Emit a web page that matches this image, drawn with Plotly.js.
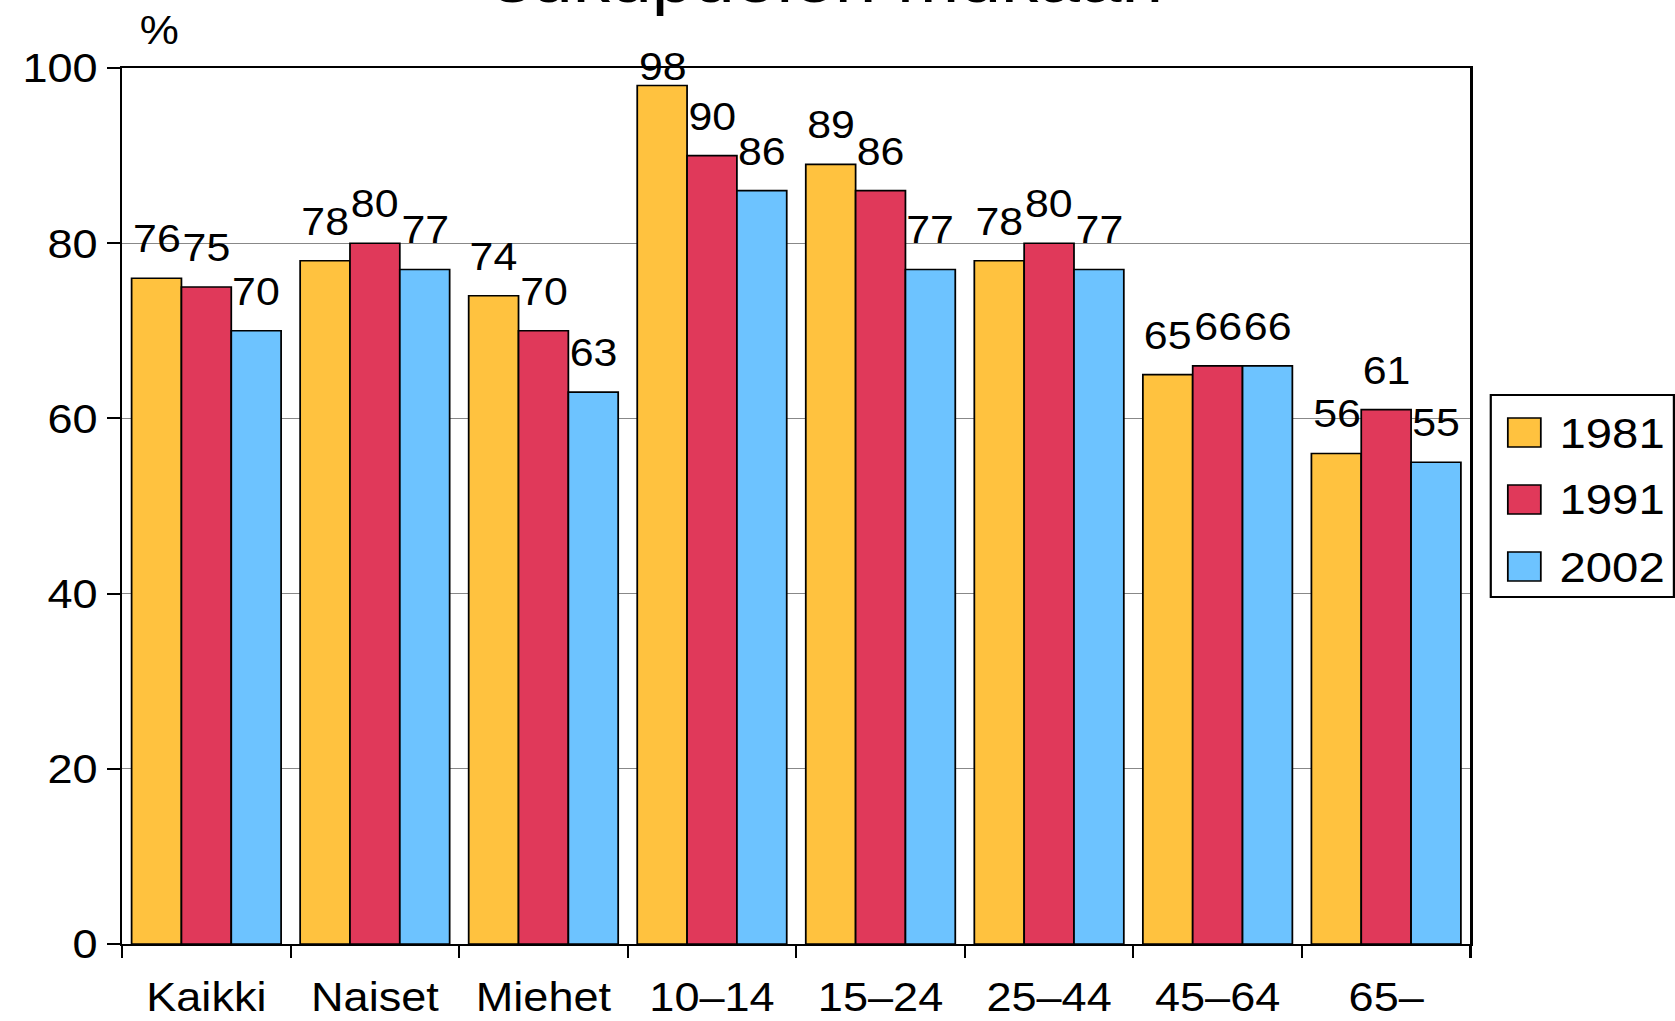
<!DOCTYPE html>
<html>
<head>
<meta charset="utf-8">
<script src="https://cdn.plot.ly/plotly-3.0.1.min.js"></script>
<style>
html,body{margin:0;padding:0;background:#fff;overflow:hidden;}
#chart{width:1523px;height:1021px;transform:scaleX(1.0998);transform-origin:0 0;}
</style>
</head>
<body>
<div id="chart"></div>
<script>
// ---- data ----
const categories = ["Kaikki", "Naiset", "Miehet", "10\u201314", "15\u201324", "25\u201344", "45\u201364", "65\u2013"];
const seriesNames = ["1981", "1991", "2002"];
const values1981 = [76, 78, 74, 98, 89, 78, 65, 56];
const values1991 = [75, 80, 70, 90, 86, 80, 66, 61];
const values2002 = [70, 77, 63, 86, 77, 77, 66, 55];
const yTickValues = [0, 20, 40, 60, 80, 100];
const yUnitLabel = "%";
const titleLine = "sukupuolen mukaan";

// ---- style ----
const colors = ["#FFC23F", "#E0395A", "#6DC3FF"];
const FONT = "Liberation Sans, Arial, sans-serif";
const W = 1523, H = 1021;
const M = {l: 111, r: 186, t: 68, b: 77};
const plotW = W - M.l - M.r, plotH = H - M.t - M.b;
const px2x = p => (p - M.l) / plotW;
const px2y = p => (H - M.b - p) / plotH;
const BARGAP = 0.113;
const nSeries = 3;
const barWpx = plotW / categories.length * (1 - BARGAP) / nSeries;
const LABEL_SIZE = 39;

const seriesValues = [values1981, values1991, values2002];

const traces = seriesValues.map((vals, i) => ({
  type: "bar",
  name: seriesNames[i],
  x: categories,
  y: vals,
  marker: {color: colors[i], line: {color: "#000", width: 1.6}},
  showlegend: false,
  hoverinfo: "x+y+name"
}));

const shapes = [];
const annotations = [];

// value labels above bars (kept inside the figure near the top)
const labelBoxH = LABEL_SIZE * 1.117 + 2;
seriesValues.forEach((vals, i) => {
  vals.forEach((v, j) => {
    const barTopPx = (100 - v) / 100 * plotH;
    const ys = Math.min(16, barTopPx - labelBoxH + 24);
    annotations.push({
      xref: "x", yref: "y", x: categories[j], y: v,
      xshift: (i - (nSeries - 1) / 2) * barWpx,
      yshift: ys,
      xanchor: "center", yanchor: "bottom",
      text: String(v), showarrow: false,
      font: {family: FONT, size: LABEL_SIZE, color: "#000"}
    });
  });
});

// title fragment (only lower part visible at top of picture)
annotations.push({
  xref: "paper", yref: "paper",
  x: px2x(753), y: px2y(17.5), xanchor: "center", yanchor: "bottom",
  text: titleLine, showarrow: false, borderpad: 0,
  font: {family: FONT, size: 68, color: "#000"}
});
// unit label
annotations.push({
  xref: "paper", yref: "paper",
  x: px2x(144.5), y: px2y(30), xanchor: "center", yanchor: "middle",
  text: yUnitLabel, showarrow: false,
  font: {family: FONT, size: 40, color: "#000"}
});

// legend box
shapes.push({
  type: "rect", xref: "paper", yref: "paper",
  x0: px2x(1355.5), x1: px2x(1522), y0: px2y(597), y1: px2y(395),
  line: {color: "#000", width: 2}, fillcolor: "#fff", layer: "above"
});
const rowCenters = [432.5, 499.5, 566.5];
seriesNames.forEach((nm, i) => {
  const c = rowCenters[i];
  shapes.push({
    type: "rect", xref: "paper", yref: "paper",
    x0: px2x(1371), x1: px2x(1401), y0: px2y(c + 14.5), y1: px2y(c - 14.5),
    line: {color: "#000", width: 1.6}, fillcolor: colors[i], layer: "above"
  });
  annotations.push({
    xref: "paper", yref: "paper",
    x: px2x(1416), y: px2y(c), xanchor: "left", yanchor: "middle",
    text: nm, showarrow: false,
    font: {family: FONT, size: 43, color: "#000"}
  });
});

const layout = {
  width: W, height: H,
  margin: M,
  paper_bgcolor: "#fff", plot_bgcolor: "#fff",
  barmode: "group", bargap: BARGAP, bargroupgap: 0,
  showlegend: false,
  xaxis: {
    type: "category",
    range: [-0.5, 7.5],
    showline: true, linecolor: "#000", linewidth: 2, mirror: true,
    ticks: "outside", tickson: "boundaries", ticklen: 12, tickwidth: 2, tickcolor: "#000",
    showgrid: false, zeroline: false,
    tickfont: {family: FONT, size: 41, color: "#000"},
    ticklabelstandoff: 16,
    fixedrange: true
  },
  yaxis: {
    range: [0, 100],
    tickvals: yTickValues,
    ticktext: yTickValues.map(String),
    showline: true, linecolor: "#000", linewidth: 2, mirror: true,
    ticks: "outside", ticklen: 12, tickwidth: 2, tickcolor: "#000",
    showgrid: true, gridcolor: "#888888", gridwidth: 1,
    zeroline: false,
    tickfont: {family: FONT, size: 41, color: "#000"},
    ticklabelstandoff: 7.5,
    fixedrange: true
  },
  shapes: shapes,
  annotations: annotations,
  font: {family: FONT, color: "#000"}
};

Plotly.newPlot("chart", traces, layout, {displayModeBar: false, staticPlot: true});
</script>
</body>
</html>
